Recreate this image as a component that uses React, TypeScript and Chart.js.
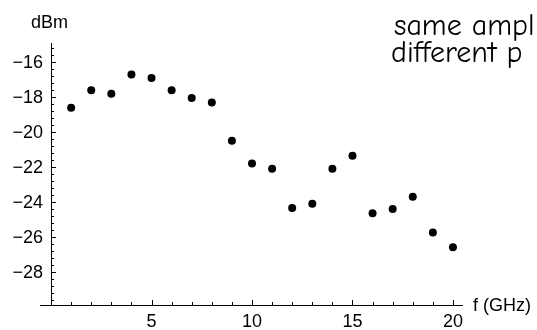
import React, { useEffect, useRef } from "react";
import { Chart, registerables } from "chart.js";

Chart.register(...registerables);

const freqGHz = [1, 2, 3, 4, 5, 6, 7, 8, 9, 10, 11, 12, 13, 14, 15, 16, 17, 18, 19, 20];
const powerDbm = [
  -18.6, -17.6, -17.8, -16.7, -16.9, -17.6, -18.05, -18.3, -20.5, -21.8,
  -22.1, -24.35, -24.1, -22.1, -21.35, -24.65, -24.4, -23.7, -25.75, -26.6,
];
const xTickLabels = [5, 10, 15, 20];
const xMinorTicks = [1, 2, 3, 4, 6, 7, 8, 9, 11, 12, 13, 14, 16, 17, 18, 19];
const yTickLabels = [-28, -26, -24, -22, -20, -18, -16];
const yMinorStep = 0.4;
const yAxisLabel = "dBm";
const xAxisLabel = "f (GHz)";
const noteLines = ["same ampl", "different p"];

const X_MIN = -0.55;
const X_MAX = 20.5;
const Y_MIN = -29.9;
const Y_MAX = -14.9;

const fmt = (v: number) => (v < 0 ? "\u2212" + Math.abs(v) : String(v));

const axesPlugin = {
  id: "mathematicaAxes",
  afterDraw(chart: any) {
    const ctx = chart.ctx as CanvasRenderingContext2D;
    const xs = chart.scales.x;
    const ys = chart.scales.y;
    const area = chart.chartArea;
    const x0 = xs.getPixelForValue(0);
    const yb = area.bottom;
    ctx.save();
    ctx.strokeStyle = "#000";
    ctx.lineWidth = 1;
    ctx.beginPath();
    ctx.moveTo(area.left, Math.round(yb) + 0.5);
    ctx.lineTo(area.right, Math.round(yb) + 0.5);
    ctx.moveTo(Math.round(x0) + 0.5, area.top);
    ctx.lineTo(Math.round(x0) + 0.5, yb);
    ctx.stroke();
    ctx.beginPath();
    for (const v of xTickLabels) {
      const px = Math.round(xs.getPixelForValue(v)) + 0.5;
      ctx.moveTo(px, yb);
      ctx.lineTo(px, yb - 5);
    }
    for (const v of xMinorTicks) {
      const px = Math.round(xs.getPixelForValue(v)) + 0.5;
      ctx.moveTo(px, yb);
      ctx.lineTo(px, yb - 3);
    }
    for (const v of yTickLabels) {
      const py = Math.round(ys.getPixelForValue(v)) + 0.5;
      ctx.moveTo(x0, py);
      ctx.lineTo(x0 + 5, py);
    }
    for (let i = 0; i < 60; i++) {
      const v = -30 + i * yMinorStep;
      if (v < Y_MIN || v > Y_MAX) continue;
      if (Math.abs(v / 2 - Math.round(v / 2)) < 1e-6) continue;
      const py = Math.round(ys.getPixelForValue(v)) + 0.5;
      ctx.moveTo(x0, py);
      ctx.lineTo(x0 + 3, py);
    }
    ctx.stroke();

    ctx.fillStyle = "#000";
    ctx.font = '18px "Liberation Sans", Arial, sans-serif';
    ctx.textAlign = "center";
    ctx.textBaseline = "top";
    for (const v of xTickLabels) {
      ctx.fillText(fmt(v), xs.getPixelForValue(v), yb + 8);
    }
    ctx.textAlign = "right";
    ctx.textBaseline = "middle";
    for (const v of yTickLabels) {
      ctx.fillText(fmt(v), x0 - 8, ys.getPixelForValue(v) + 1);
    }
    ctx.font = '18px "Liberation Sans", Arial, sans-serif';
    ctx.textAlign = "left";
    ctx.textBaseline = "alphabetic";
    ctx.fillText(yAxisLabel, 31, area.top - 15);
    ctx.textBaseline = "middle";
    ctx.fillText(xAxisLabel, area.right + 10, yb + 1);

    ctx.font = '30px "Comic Sans MS", "Comic Neue", "DejaVu Sans", sans-serif';
    ctx.textAlign = "left";
    ctx.textBaseline = "alphabetic";
    ctx.fillText(noteLines[0], 394, 35);
    ctx.fillText(noteLines[1], 391, 62);
    ctx.restore();
  },
};

export default function App() {
  const canvasRef = useRef<HTMLCanvasElement | null>(null);

  useEffect(() => {
    document.body.style.margin = "0";
    const canvas = canvasRef.current;
    if (!canvas) return;
    const chart = new Chart(canvas, {
      type: "scatter",
      data: {
        datasets: [
          {
            data: freqGHz.map((f, i) => ({ x: f, y: powerDbm[i] })),
            backgroundColor: "#000",
            borderColor: "#000",
            pointRadius: 4,
            pointHoverRadius: 4,
            pointBorderWidth: 0,
          },
        ],
      },
      options: {
        responsive: false,
        animation: false,
        events: [],
        layout: { padding: { left: 40, right: 74, top: 43, bottom: 25 } },
        plugins: {
          legend: { display: false },
          tooltip: { enabled: false },
          title: { display: false },
        },
        scales: {
          x: { type: "linear", min: X_MIN, max: X_MAX, display: false },
          y: { type: "linear", min: Y_MIN, max: Y_MAX, display: false },
        },
      },
      plugins: [axesPlugin],
    });
    return () => chart.destroy();
  }, []);

  return (
    <div style={{ width: 537, height: 330, background: "#fff" }}>
      <canvas ref={canvasRef} width={537} height={330} style={{ display: "block" }} />
    </div>
  );
}
